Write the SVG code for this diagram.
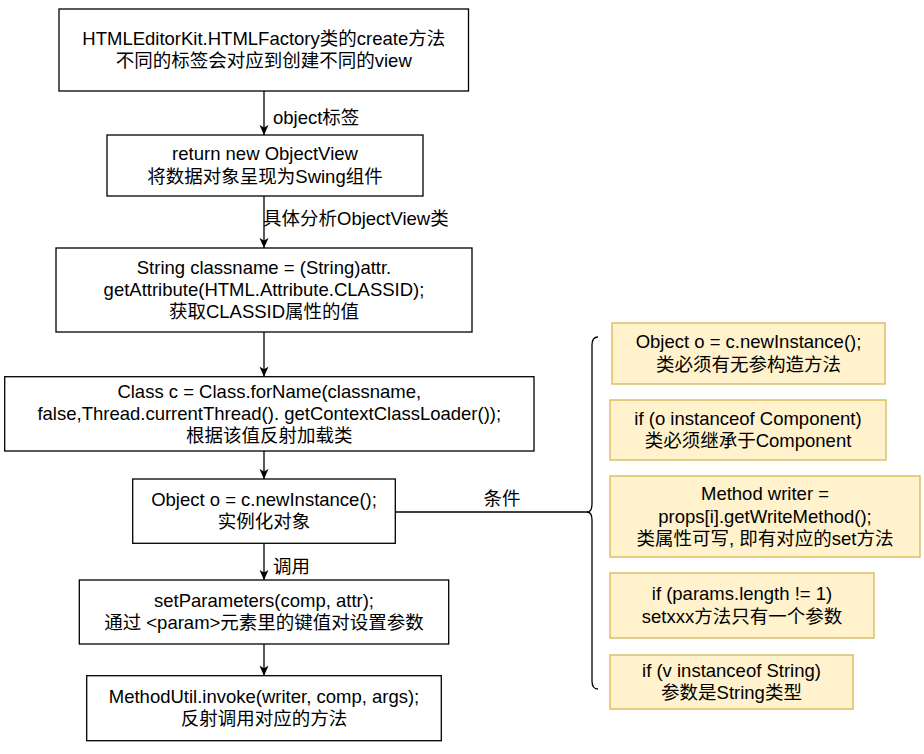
<svg xmlns="http://www.w3.org/2000/svg" width="924" height="754" viewBox="0 0 924 754">
<style>
  .box { fill: #ffffff; stroke: #000000; stroke-width: 1.3; }
  .ybox { fill: #fff2cc; stroke: #d6b656; stroke-width: 1.3; }
  text { font-family: "Liberation Sans", "Noto Sans CJK SC", sans-serif; font-size: 18.5px; fill: #000000; }
  .c { text-anchor: middle; }
  .edge { fill: none; stroke: #000000; stroke-width: 1.3; }
</style>
<defs>
  <marker id="arrow" markerUnits="userSpaceOnUse" markerWidth="11" markerHeight="10" refX="10" refY="4.5" orient="auto">
    <path d="M0,0 L10,4.5 L0,9 L2.5,4.5 Z" fill="#000000"/>
  </marker>
</defs>
<rect width="924" height="754" fill="#ffffff"/>

<g id="connectors">
  <line class="edge" x1="264" y1="91" x2="264" y2="135" marker-end="url(#arrow)"/>
  <line class="edge" x1="264" y1="196" x2="264" y2="248" marker-end="url(#arrow)"/>
  <line class="edge" x1="264" y1="332" x2="264" y2="376.7" marker-end="url(#arrow)"/>
  <line class="edge" x1="264" y1="451" x2="264" y2="479" marker-end="url(#arrow)"/>
  <line class="edge" x1="264" y1="543.3" x2="264" y2="580" marker-end="url(#arrow)"/>
  <line class="edge" x1="264" y1="644" x2="264" y2="675.7" marker-end="url(#arrow)"/>
  <line class="edge" x1="395.3" y1="512" x2="588" y2="512"/>
  <text x="273" y="124">object标签</text>
  <text x="263" y="225">具体分析ObjectView类</text>
  <text x="273" y="573">调用</text>
  <text class="c" x="502" y="505">条件</text>
</g>

<g id="brace">
  <path class="edge" d="M598,337 Q592,337 592,345 L592,504 Q592,512 587,512 Q592,512 592,520 L592,681 Q592,689 598,689"/>
</g>

<g id="n1">
  <rect class="box" x="59" y="9" width="409.5" height="82"/>
  <text class="c" x="263.75" y="44.8">HTMLEditorKit.HTMLFactory类的create方法</text>
  <text class="c" x="263.75" y="67.1">不同的标签会对应到创建不同的view</text>
</g>
<g id="n2">
  <rect class="box" x="107" y="135" width="316" height="61"/>
  <text class="c" x="265" y="160.4">return new ObjectView</text>
  <text class="c" x="265" y="182.7">将数据对象呈现为Swing组件</text>
</g>
<g id="n3">
  <rect class="box" x="56" y="248" width="416" height="84"/>
  <text class="c" x="264" y="273.7">String classname = (String)attr.</text>
  <text class="c" x="264" y="296">getAttribute(HTML.Attribute.CLASSID);</text>
  <text class="c" x="264" y="318.3">获取CLASSID属性的值</text>
</g>
<g id="n4">
  <rect class="box" x="4.7" y="376.7" width="529.3" height="74.3"/>
  <text class="c" x="269.3" y="397.5">Class c = Class.forName(classname,</text>
  <text class="c" x="269.3" y="419.8">false,Thread.currentThread(). getContextClassLoader());</text>
  <text class="c" x="269.3" y="442.1">根据该值反射加载类</text>
</g>
<g id="n5">
  <rect class="box" x="132.7" y="479" width="262.6" height="64.3"/>
  <text class="c" x="264" y="506">Object o = c.newInstance();</text>
  <text class="c" x="264" y="528.3">实例化对象</text>
</g>
<g id="n6">
  <rect class="box" x="79.3" y="580" width="369.4" height="64"/>
  <text class="c" x="264" y="606.8">setParameters(comp, attr);</text>
  <text class="c" x="264" y="629.1">通过 &lt;param&gt;元素里的键值对设置参数</text>
</g>
<g id="n7">
  <rect class="box" x="86.7" y="675.7" width="354.6" height="65"/>
  <text class="c" x="264" y="703">MethodUtil.invoke(writer, comp, args);</text>
  <text class="c" x="264" y="725.3">反射调用对应的方法</text>
</g>

<g id="y1">
  <rect class="ybox" x="612" y="323" width="273" height="61"/>
  <text class="c" x="748.5" y="348.3">Object o = c.newInstance();</text>
  <text class="c" x="748.5" y="370.6">类必须有无参构造方法</text>
</g>
<g id="y2">
  <rect class="ybox" x="610" y="400" width="276" height="60"/>
  <text class="c" x="748" y="424.8">if (o instanceof Component)</text>
  <text class="c" x="748" y="447.1">类必须继承于Component</text>
</g>
<g id="y3">
  <rect class="ybox" x="610" y="476" width="310" height="81"/>
  <text class="c" x="765" y="500.2">Method writer =</text>
  <text class="c" x="765" y="522.5">props[i].getWriteMethod();</text>
  <text class="c" x="765" y="544.8">类属性可写, 即有对应的set方法</text>
</g>
<g id="y4">
  <rect class="ybox" x="610" y="573" width="264" height="65"/>
  <text class="c" x="742" y="600.3">if (params.length != 1)</text>
  <text class="c" x="742" y="622.6">setxxx方法只有一个参数</text>
</g>
<g id="y5">
  <rect class="ybox" x="610" y="655" width="243" height="54"/>
  <text class="c" x="731.5" y="676.8">if (v instanceof String)</text>
  <text class="c" x="731.5" y="699.1">参数是String类型</text>
</g>
</svg>
